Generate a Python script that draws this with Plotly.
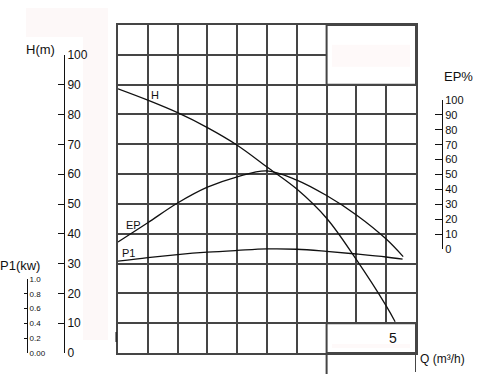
import plotly.graph_objects as go

W, HPX = 492, 374

# ---- data (x in grid-column units of Q, y on the H(m) scale of the chart) ----
q_head = [0, 1, 2, 3, 4, 5, 6, 7, 8, 9, 9.3]
head = [88.6, 84.8, 80.6, 75.6, 69.7, 62.4, 55.0, 45.2, 31.3, 15.8, 10.5]

q_ep = [0, 1, 2, 3, 4, 5, 6, 7, 8, 9, 9.57]
ep = [37.2, 43.7, 50.3, 55.6, 59.1, 61.1, 58.0, 52.8, 46.3, 38.2, 32.3]

q_p1 = [0, 1, 2, 3, 4, 5, 6, 7, 8, 9, 9.55]
p1 = [30.8, 32.0, 33.0, 33.8, 34.4, 34.9, 34.8, 34.1, 33.2, 32.2, 31.5]

h_ticks = list(range(0, 101, 10))
ep_ticks = list(range(0, 101, 10))
p1_ticks = [0, 0.2, 0.4, 0.6, 0.8, 1.0]
p1_ticktext = ["0.00", "0.2", "0.4", "0.6", "0.8", "1.0"]
q_label = "5"


def fx(px):
    return px / W


def fy(py):
    return 1 - py / HPX


NARROW = "Liberation Sans Narrow, Liberation Sans, Arial, sans-serif"
SANS = "Liberation Sans, Arial, sans-serif"
GRID = "#454545"
GW = 2
INK = "#111111"

fig = go.Figure()

line_style = dict(color=INK, width=1.3, shape="spline", smoothing=1.0)
fig.add_trace(go.Scatter(x=q_head, y=head, mode="lines", line=line_style,
                         showlegend=False, hoverinfo="skip"))
fig.add_trace(go.Scatter(x=q_ep, y=ep, mode="lines", line=line_style,
                         showlegend=False, hoverinfo="skip"))
fig.add_trace(go.Scatter(x=q_p1, y=p1, mode="lines", line=line_style,
                         showlegend=False, hoverinfo="skip"))

# empty traces that carry the separate scale axes
for ya in ["y2", "y3", "y4"]:
    fig.add_trace(go.Scatter(x=[], y=[], xaxis="x2", yaxis=ya,
                             showlegend=False, hoverinfo="skip"))

scale_axis = dict(anchor="free", side="right", ticks="inside", tickcolor=INK,
                  tickwidth=1, showline=True, linecolor=INK, linewidth=1,
                  showgrid=False, zeroline=False, fixedrange=True,
                  automargin=False)

fig.update_layout(
    template="none",
    width=W, height=HPX,
    autosize=False,
    margin=dict(l=0, r=0, t=0, b=0, pad=0, autoexpand=False),
    paper_bgcolor="white",
    plot_bgcolor="rgba(0,0,0,0)",
    showlegend=False,
    xaxis=dict(domain=[fx(118), fx(416)], range=[0, 10], dtick=1, tick0=0,
               showgrid=True, gridcolor=GRID, gridwidth=GW,
               showline=True, mirror=True, linecolor=GRID, linewidth=GW,
               showticklabels=False, ticks="", zeroline=False, fixedrange=True,
               automargin=False),
    yaxis=dict(domain=[fy(353), fy(25)], range=[0, 110], dtick=10, tick0=0,
               showgrid=True, gridcolor=GRID, gridwidth=GW,
               showline=True, mirror=True, linecolor=GRID, linewidth=GW,
               showticklabels=False, ticks="", zeroline=False, fixedrange=True,
               automargin=False),
    xaxis2=dict(visible=False, domain=[0, 1], range=[0, 1], anchor="y2",
                automargin=False),
    yaxis2=dict(scale_axis, domain=[fy(353), fy(55)], range=[0, 100],
                position=fx(64), tickvals=h_ticks, ticklen=6,
                tickfont=dict(family=NARROW, size=12, color=INK)),
    yaxis3=dict(scale_axis, domain=[fy(249), fy(100)], range=[0, 100],
                position=fx(442), tickvals=ep_ticks, ticklen=7,
                tickfont=dict(family=NARROW, size=11, color=INK)),
    yaxis4=dict(scale_axis, domain=[fy(353), fy(279)], range=[0, 1],
                position=fx(27), tickvals=p1_ticks, ticktext=p1_ticktext,
                ticklen=3, tickfont=dict(family=NARROW, size=8, color=INK)),
)

PALE = "#fdf8f8"
shapes = [
    # faint background patches
    dict(type="rect", xref="paper", yref="paper", x0=fx(26), x1=fx(108),
         y0=fy(37), y1=fy(8), fillcolor=PALE, line_width=0, layer="below"),
    dict(type="rect", xref="paper", yref="paper", x0=fx(83), x1=fx(108),
         y0=fy(340), y1=fy(8), fillcolor=PALE, line_width=0, layer="below"),
    # open boxes in the grid
    dict(type="rect", xref="x", yref="y", x0=7, x1=10, y0=90, y1=110,
         fillcolor="white", line=dict(color=GRID, width=GW), layer="between"),
    dict(type="rect", xref="x", yref="y", x0=7, x1=10, y0=0, y1=10,
         fillcolor="white", line=dict(color=GRID, width=GW), layer="between"),
    dict(type="rect", xref="x", yref="y", x0=7.18, x1=9.8, y0=96, y1=103.4,
         fillcolor="#fef9f9", line_width=0, layer="between"),
    dict(type="rect", xref="x", yref="y", x0=7.18, x1=9.8, y0=1.7, y1=3.0,
         fillcolor="#fef9f9", line_width=0, layer="between"),
    # box under the chart
    dict(type="line", xref="x", yref="paper", x0=7, x1=7, y0=0, y1=fy(353),
         line=dict(color=GRID, width=GW)),
    dict(type="line", xref="x", yref="paper", x0=10, x1=10, y0=fy(372), y1=fy(353),
         line=dict(color=GRID, width=GW)),
    # small mark at left of bottom row
    dict(type="line", xref="paper", yref="paper", x0=fx(116), x1=fx(116),
         y0=fy(342), y1=fy(332), line=dict(color=INK, width=1)),
]
fig.update_layout(shapes=shapes)

ann = [
    dict(text="H(m)", xref="paper", yref="paper", x=fx(57), y=fy(50),
         xanchor="right", yanchor="middle", font=dict(family=NARROW, size=13)),
    dict(text="EP%", xref="paper", yref="paper", x=fx(442), y=fy(76),
         xanchor="left", yanchor="middle", font=dict(family=NARROW, size=13)),
    dict(text="P1(kw)", xref="paper", yref="paper", x=fx(-2), y=fy(265),
         xanchor="left", yanchor="middle", font=dict(family=NARROW, size=13)),
    dict(text="Q (m³/h)", xref="paper", yref="paper", x=fx(418), y=fy(359),
         xanchor="left", yanchor="middle", font=dict(family=NARROW, size=12)),
    dict(text=q_label, xref="x", yref="y", x=9.23, y=5, xanchor="center",
         yanchor="middle", font=dict(family=NARROW, size=14)),
    dict(text="H", xref="x", yref="y", x=1.24, y=86.6, xanchor="center",
         yanchor="middle", font=dict(family=SANS, size=11)),
    dict(text="EP", xref="x", yref="y", x=0.52, y=43.0, xanchor="center",
         yanchor="middle", font=dict(family=SANS, size=11)),
    dict(text="P1", xref="x", yref="y", x=0.35, y=33.5, xanchor="center",
         yanchor="middle", font=dict(family=SANS, size=11)),
]
for a in ann:
    a["showarrow"] = False
    a["font"]["color"] = INK
fig.update_layout(annotations=ann)

fig.write_html("out.html",
               config={"displayModeBar": False, "staticPlot": True},
               post_script="document.body.style.margin='0';")
